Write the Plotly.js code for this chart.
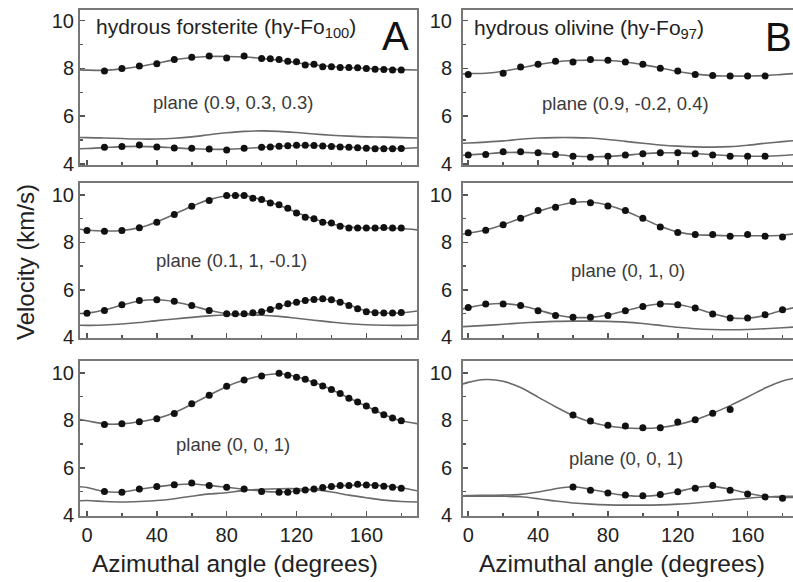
<!DOCTYPE html>
<html>
<head>
<meta charset="utf-8">
<script src="https://cdn.plot.ly/plotly-3.0.1.min.js"></script>
<style>html,body{margin:0;padding:0;background:#fff;}#chart{width:793px;height:582px;}</style>
</head>
<body>
<div id="chart"></div>
<script>
// ---------- DATA ----------
const curveAngles = [-10,0,10,20,30,40,50,60,70,80,90,100,110,120,130,140,150,160,170,180,190];

// Panel A1: hydrous forsterite, plane (0.9, 0.3, 0.3)
const angA1 = [10,20,30,40,50,60,70,80,90,100,105,110,115,120,125,130,135,140,145,150,155,160,165,170,175,180];
const vpA1 = [7.89,8.0,8.1,8.2,8.37,8.47,8.52,8.44,8.52,8.42,8.41,8.37,8.3,8.28,8.14,8.18,8.07,8.07,8.04,8.04,8.03,8.0,7.97,7.96,7.93,7.93];
const vs1A1 = [4.69,4.73,4.79,4.70,4.66,4.65,4.62,4.58,4.65,4.69,4.71,4.74,4.76,4.78,4.78,4.77,4.75,4.73,4.71,4.69,4.67,4.65,4.63,4.63,4.63,4.64];
const fitVpA1 = [7.96,7.93,7.92,7.98,8.08,8.22,8.36,8.46,8.5,8.5,8.48,8.42,8.34,8.24,8.15,8.08,8.03,8.0,7.97,7.95,7.93];
const fitVs1A1 = [4.63,4.64,4.68,4.72,4.73,4.71,4.67,4.63,4.61,4.61,4.64,4.69,4.74,4.77,4.77,4.74,4.7,4.66,4.64,4.64,4.68];
const fitVs2A1 = [5.1,5.1,5.08,5.06,5.04,5.04,5.07,5.13,5.22,5.3,5.36,5.38,5.36,5.31,5.25,5.2,5.16,5.13,5.12,5.1,5.08];

// Panel A2: plane (0.1, 1, -0.1)
const angA2 = [0,10,20,30,40,50,60,70,80,85,90,95,100,105,110,115,120,125,130,135,140,145,150,155,160,165,170,175,180];
const vpA2 = [8.5,8.47,8.5,8.61,8.85,9.17,9.52,9.76,9.97,9.97,9.97,9.86,9.8,9.66,9.58,9.44,9.24,9.06,8.99,8.85,8.82,8.68,8.6,8.6,8.6,8.6,8.62,8.6,8.6];
const vs1A2 = [5.01,5.13,5.37,5.55,5.58,5.52,5.34,5.13,4.99,4.99,4.99,5.03,5.08,5.17,5.31,5.41,5.48,5.55,5.59,5.62,5.58,5.48,5.34,5.2,5.08,5.03,5.02,5.02,5.04];
const fitVpA2 = [8.6,8.52,8.48,8.5,8.62,8.86,9.18,9.52,9.8,9.96,9.97,9.8,9.56,9.26,8.98,8.78,8.64,8.6,8.6,8.58,8.52];
const fitVs1A2 = [5.0,5.02,5.15,5.36,5.53,5.58,5.5,5.33,5.14,5.0,4.98,5.07,5.3,5.48,5.59,5.58,5.36,5.1,5.02,5.03,5.12];
const fitVs2A2 = [4.52,4.5,4.52,4.56,4.62,4.7,4.77,4.84,4.9,4.94,4.95,4.93,4.88,4.8,4.72,4.64,4.57,4.53,4.51,4.5,4.52];

// Panel A3: plane (0, 0, 1)
const angA3 = [10,20,30,40,50,60,70,80,90,100,110,115,120,125,130,135,140,145,150,155,160,165,170,175,180];
const vpA3 = [7.83,7.86,7.94,8.07,8.29,8.7,9.06,9.44,9.7,9.87,9.98,9.9,9.82,9.73,9.58,9.45,9.3,9.13,8.93,8.77,8.6,8.42,8.24,8.1,7.98];
const vs1A3 = [5.0,4.97,5.11,5.21,5.29,5.36,5.25,5.18,5.11,5.0,4.97,4.97,5.02,5.07,5.11,5.17,5.21,5.25,5.25,5.31,5.28,5.25,5.22,5.18,5.14];
const fitVpA3 = [8.1,7.98,7.85,7.85,7.94,8.08,8.32,8.68,9.06,9.43,9.7,9.88,9.96,9.84,9.6,9.3,8.94,8.6,8.25,7.98,7.85];
const fitVs1A3 = [5.23,5.17,5.0,4.98,5.1,5.2,5.28,5.32,5.26,5.18,5.1,5.02,4.98,5.01,5.1,5.2,5.26,5.28,5.24,5.16,5.02];
const fitVs2A3 = [4.58,4.62,4.58,4.56,4.58,4.62,4.7,4.8,4.9,4.95,5.05,5.1,5.12,5.12,5.08,4.98,4.85,4.74,4.64,4.58,4.56];

// Panel B1: hydrous olivine, plane (0.9, -0.2, 0.4)
const angB1p = [0,20,30,40,50,60,70,80,90,100,110,120,130,140,150,160,170];
const vpB1 = [7.75,7.8,8.06,8.17,8.3,8.27,8.37,8.34,8.27,8.17,8.01,7.89,7.75,7.7,7.68,7.68,7.68];
const angB1s = [0,10,20,30,40,50,60,70,80,90,100,110,120,130,140,150,160,170];
const vs1B1 = [4.37,4.39,4.51,4.51,4.46,4.39,4.32,4.28,4.32,4.37,4.42,4.46,4.46,4.42,4.37,4.32,4.32,4.32];
const fitVpB1 = [7.75,7.78,7.8,7.88,8.02,8.16,8.27,8.33,8.35,8.33,8.27,8.16,8.02,7.87,7.76,7.7,7.68,7.68,7.7,7.75,7.8];
const fitVs1B1 = [4.34,4.37,4.42,4.47,4.48,4.45,4.39,4.33,4.3,4.31,4.36,4.42,4.46,4.46,4.43,4.38,4.34,4.32,4.32,4.35,4.4];
const fitVs2B1 = [4.84,4.87,4.91,4.96,5.03,5.08,5.1,5.1,5.08,5.02,4.94,4.86,4.79,4.74,4.71,4.7,4.72,4.78,4.86,4.93,4.99];

// Panel B2: plane (0, 1, 0)
const angB2 = [0,10,20,30,40,50,60,70,80,90,100,110,120,130,140,150,160,170,180];
const vpB2 = [8.4,8.51,8.74,9.02,9.34,9.48,9.72,9.67,9.53,9.34,9.02,8.65,8.41,8.33,8.33,8.26,8.33,8.26,8.23];
const vs1B2 = [5.26,5.4,5.4,5.34,5.12,4.92,4.84,4.84,4.92,5.12,5.3,5.4,5.37,5.23,4.98,4.81,4.81,4.95,5.16];
const fitVpB2 = [8.25,8.38,8.52,8.74,9.02,9.3,9.52,9.68,9.7,9.56,9.32,9.0,8.68,8.44,8.32,8.3,8.28,8.28,8.28,8.3,8.4];
const fitVs1B2 = [5.05,5.25,5.38,5.42,5.34,5.15,4.95,4.84,4.84,4.94,5.12,5.3,5.4,5.38,5.22,5.0,4.83,4.8,4.92,5.14,5.3];
const fitVs2B2 = [4.43,4.46,4.5,4.55,4.6,4.64,4.67,4.68,4.68,4.67,4.64,4.58,4.5,4.42,4.36,4.33,4.32,4.33,4.36,4.4,4.45];

// Panel B3: plane (0, 0, 1)
const angB3p = [60,70,80,90,100,110,120,130,140,150];
const vpB3 = [8.22,7.97,7.79,7.76,7.69,7.69,7.93,8.03,8.3,8.46];
const angB3s = [60,70,80,90,100,110,120,130,140,150,160,170,180];
const vs1B3 = [5.19,5.06,4.94,4.85,4.82,4.88,4.99,5.14,5.25,5.06,4.9,4.77,4.72];
const fitVpB3 = [9.35,9.6,9.72,9.65,9.38,8.98,8.57,8.2,7.93,7.76,7.68,7.66,7.7,7.82,8.02,8.3,8.62,8.98,9.36,9.66,9.82];
const fitVs1B3 = [4.8,4.83,4.84,4.85,4.88,4.98,5.12,5.2,5.1,4.95,4.84,4.8,4.86,5.0,5.16,5.22,5.1,4.93,4.8,4.75,4.76];
const fitVs2B3 = [4.8,4.8,4.8,4.8,4.78,4.7,4.6,4.52,4.47,4.44,4.43,4.43,4.44,4.47,4.52,4.58,4.65,4.72,4.77,4.8,4.8];

const planeLabels = ["plane (0.9, 0.3, 0.3)", "plane (0.9, -0.2, 0.4)", "plane (0.1, 1, -0.1)", "plane (0, 1, 0)", "plane (0, 0, 1)", "plane (0, 0, 1)"];
const xTickVals = [0,40,80,120,160];
const yTickVals = [4,6,8,10];

// ---------- BUILD ----------
const W = 793, H = 582;
const FONT = "Liberation Sans, Arial, sans-serif";
const lineStyle = {color: '#6a6a6a', width: 1.6, shape: 'spline', smoothing: 0.8};
const markerStyle = {color: '#111', size: 7, symbol: 'circle'};

const panels = [
  {n:1, pts:[[angA1,vpA1],[angA1,vs1A1]], fits:[fitVpA1,fitVs1A1,fitVs2A1]},
  {n:2, pts:[[angB1p,vpB1],[angB1s,vs1B1]], fits:[fitVpB1,fitVs1B1,fitVs2B1]},
  {n:3, pts:[[angA2,vpA2],[angA2,vs1A2]], fits:[fitVpA2,fitVs1A2,fitVs2A2]},
  {n:4, pts:[[angB2,vpB2],[angB2,vs1B2]], fits:[fitVpB2,fitVs1B2,fitVs2B2]},
  {n:5, pts:[[angA3,vpA3],[angA3,vs1A3]], fits:[fitVpA3,fitVs1A3,fitVs2A3]},
  {n:6, pts:[[angB3p,vpB3],[angB3s,vs1B3]], fits:[fitVpB3,fitVs1B3,fitVs2B3]}
];

const traces = [];
panels.forEach(p => {
  const xa = p.n === 1 ? 'x' : 'x' + p.n;
  const ya = p.n === 1 ? 'y' : 'y' + p.n;
  p.fits.forEach(f => traces.push({x: curveAngles, y: f, xaxis: xa, yaxis: ya, mode: 'lines', line: lineStyle, hoverinfo: 'skip', cliponaxis: true}));
  p.pts.forEach(d => traces.push({x: d[0], y: d[1], xaxis: xa, yaxis: ya, mode: 'markers', marker: markerStyle, cliponaxis: true}));
});

const colDom = {A: [80/W, 417/W], B: [463/W, 1]};
const rowDom = [[1-165/H, 1-10/H], [1-338/H, 1-183/H], [1-516/H, 1-361/H]];
const yRanges = [[3.95, 10.45], [3.97, 10.5], [3.97, 10.5]];
const xRanges = {A: [-4, 189], B: [-3, 186]};

const layout = {
  width: W, height: H,
  margin: {l: 0, r: 0, t: 0, b: 0},
  paper_bgcolor: '#fff', plot_bgcolor: '#fff',
  showlegend: false,
  font: {family: FONT, color: '#2a2a2a', size: 18},
  annotations: []
};

for (let i = 0; i < 6; i++) {
  const n = i + 1;
  const col = (i % 2 === 0) ? 'A' : 'B';
  const row = Math.floor(i / 2);
  const xk = n === 1 ? 'xaxis' : 'xaxis' + n;
  const yk = n === 1 ? 'yaxis' : 'yaxis' + n;
  layout[xk] = {
    domain: colDom[col], anchor: n === 1 ? 'y' : 'y' + n,
    range: xRanges[col], tickmode: 'array', tickvals: xTickVals,
    showticklabels: row === 2, ticks: 'inside', ticklen: 5, tickwidth: 1.5, tickcolor: '#555',
    minor: {ticks: 'inside', ticklen: 3, tickwidth: 1.5, tickcolor: '#555', tickmode: 'array', tickvals: [20,60,100,140,180]},
    showline: true, linecolor: '#777', linewidth: 2, mirror: true,
    showgrid: false, zeroline: false,
    tickfont: {size: 20, color: '#222'}
  };
  layout[yk] = {
    domain: rowDom[row], anchor: n === 1 ? 'x' : 'x' + n,
    range: yRanges[row], tickmode: 'array', tickvals: yTickVals,
    ticks: 'inside', ticklen: 5, tickwidth: 1.5, tickcolor: '#555',
    minor: {ticks: 'inside', ticklen: 3, tickwidth: 1.5, tickcolor: '#555', tickmode: 'array', tickvals: [5,7,9]},
    showline: true, linecolor: '#777', linewidth: 2, mirror: col === 'A',
    showgrid: false, zeroline: false,
    ticklabelstandoff: col === 'B' ? 5 : 0,
    tickfont: {size: 20, color: '#222'}
  };
}

function ann(text, px, py, size, color, extra) {
  return Object.assign({text: text, x: px / W, y: 1 - py / H, xref: 'paper', yref: 'paper',
    showarrow: false, xanchor: 'center', yanchor: 'middle',
    font: {family: FONT, size: size, color: color}}, extra || {});
}

const planePos = [[233,102],[625,103],[232,260],[628,270],[233,445],[626,458]];
planeLabels.forEach((t, i) => layout.annotations.push(ann(t, planePos[i][0], planePos[i][1], 18.5, '#3a3a3a')));

layout.annotations.push(ann('hydrous forsterite (hy-Fo<sub>100</sub>)', 94, 28, 21, '#222', {xanchor: 'left'}));
layout.annotations.push(ann('hydrous olivine (hy-Fo<sub>97</sub>)', 472, 29, 21, '#222', {xanchor: 'left'}));
layout.annotations.push(ann('A', 395, 36, 40, '#111'));
layout.annotations.push(ann('B', 778, 37, 40, '#111'));
layout.annotations.push(ann('Velocity (km/s)', 25, 262, 24, '#222', {textangle: -90}));
layout.annotations.push(ann('Azimuthal angle (degrees)', 235, 563, 24.5, '#222'));
layout.annotations.push(ann('Azimuthal angle (degrees)', 622, 563, 24.5, '#222'));

Plotly.newPlot('chart', traces, layout, {displayModeBar: false, staticPlot: true});
</script>
</body>
</html>
